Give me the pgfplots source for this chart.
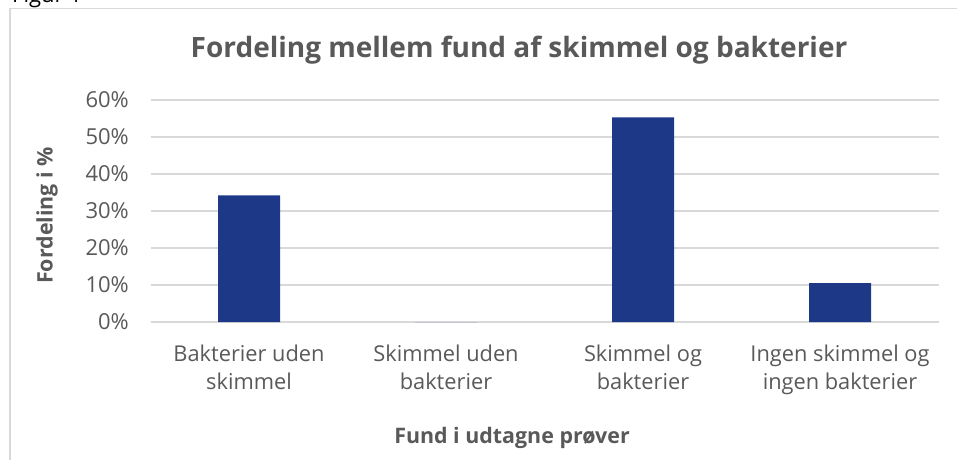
\documentclass[border=0pt]{standalone}
\usepackage{pgfplots}
\pgfplotsset{compat=1.18}
\usepackage{fontspec}
\setmainfont{Open Sans}
\definecolor{barblue}{HTML}{1E3888}
\definecolor{txtgray}{HTML}{595959}
\definecolor{gridgray}{HTML}{D9D9D9}
\begin{document}
\begin{tikzpicture}
\begin{scope}
\clip (0pt,0pt) rectangle (957pt,459pt);
% caption above the chart, mostly cut off
\node[anchor=base west, inner sep=0pt, font=\fontsize{22}{26}\selectfont] at (12pt,456pt) {Figur 1};
% chart area frame
\draw[gridgray, line width=1.2pt] (10pt,-5pt) -- (10pt,450.5pt) -- (965pt,450.5pt);
\end{scope}
% title and axis titles
\node[anchor=base, inner sep=0pt, text=txtgray, font=\fontsize{28}{32}\selectfont\bfseries] at (519pt,402pt) {Fordeling mellem fund af skimmel og bakterier};
\node[anchor=base, inner sep=0pt, text=txtgray, font=\fontsize{21.4}{25}\selectfont\bfseries] at (512pt,16pt) {Fund i udtagne prøver};
\node[rotate=90, anchor=center, inner sep=0pt, text=txtgray, font=\fontsize{21.4}{25}\selectfont\bfseries] at (47pt,243.5pt) {Fordeling i \%};
\begin{axis}[
    at={(150.5pt,137pt)}, anchor=south west,
    scale only axis,
    width=788pt, height=222pt,
    xmin=-0.5, xmax=3.5,
    ymin=0, ymax=60,
    xtick={0,1,2,3},
    xticklabels={Bakterier uden\\skimmel, Skimmel uden\\bakterier, Skimmel og\\bakterier, Ingen skimmel og\\ingen bakterier},
    ytick={0,10,20,30,40,50,60},
    yticklabels={0\%,10\%,20\%,30\%,40\%,50\%,60\%},
    major tick length=0pt,
    axis line style={draw=none},
    ymajorgrids,
    grid style={draw=gridgray, line width=1.2pt},
    yticklabel style={anchor=east, inner sep=0pt, xshift=-21.5pt, text=txtgray, font=\fontsize{22}{26}\selectfont},
    xticklabel style={anchor=north, inner sep=0pt, yshift=-23pt, align=center, text=txtgray, font=\fontsize{21.8}{28}\selectfont},
    clip=false,
]
\addplot[ybar, fill=barblue, draw=none, bar width=62pt] coordinates {(0,34.2) (1,0) (2,55.3) (3,10.5)};
\end{axis}
\pgfresetboundingbox
\path[use as bounding box] (0pt,0pt) rectangle (957pt,459pt);
\end{tikzpicture}
\end{document}
